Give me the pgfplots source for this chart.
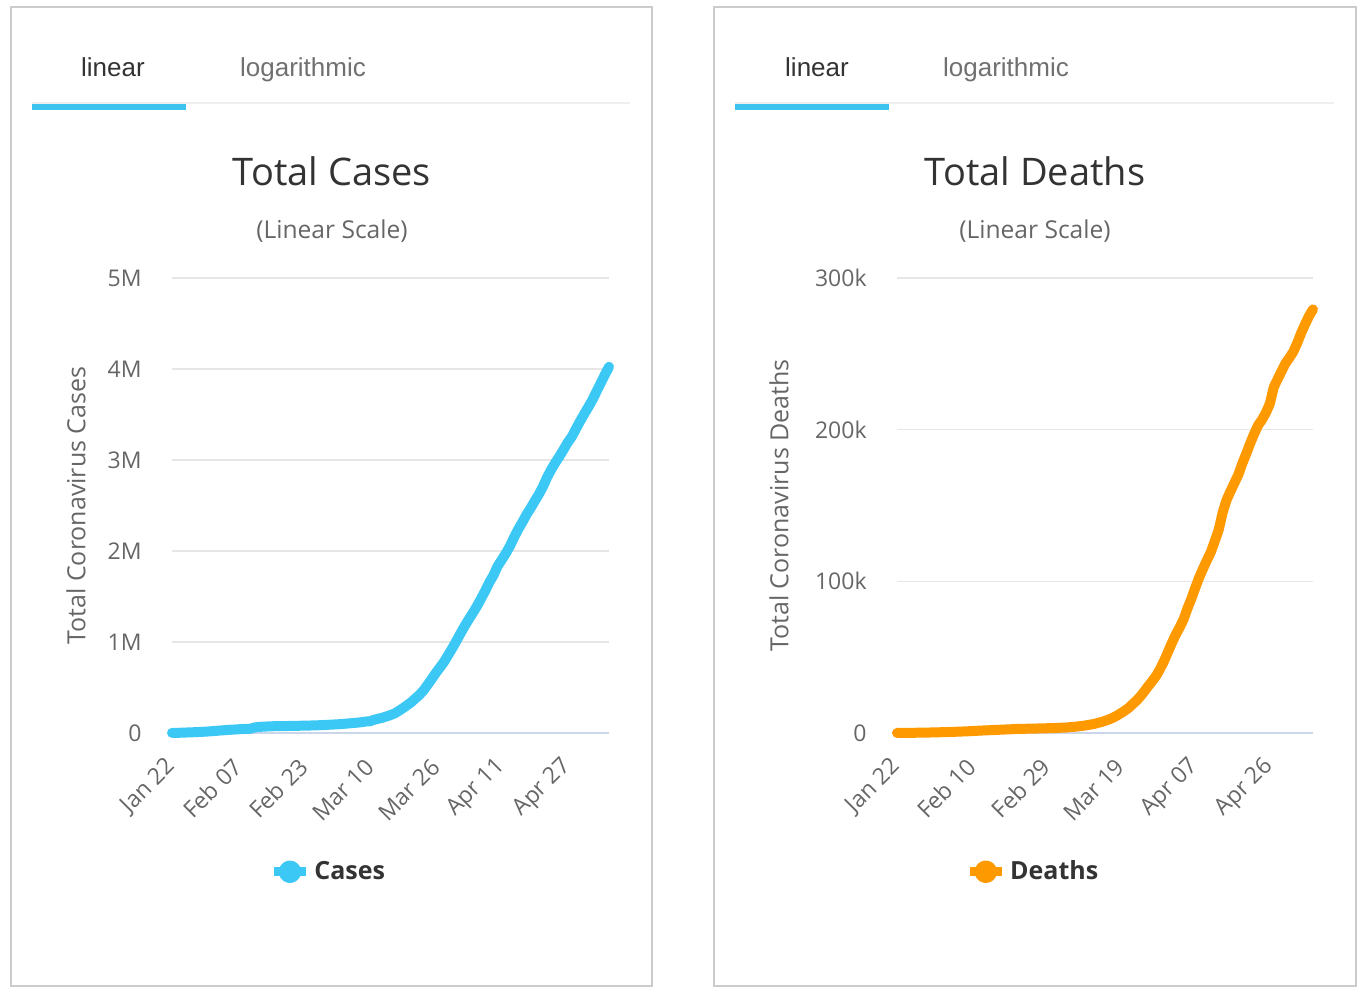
\documentclass[border=0pt]{standalone}
\usepackage{fontspec}
\setmainfont{Open Sans}
\newfontfamily\tabfont{Liberation Sans}
\usepackage{pgfplots}
\pgfplotsset{compat=1.18}

\definecolor{casesblue}{HTML}{3CC8F5}
\definecolor{deathorange}{HTML}{FF9900}
\definecolor{tabblue}{HTML}{3CC3EE}
\definecolor{bordergray}{HTML}{CCCCCC}
\definecolor{tabline}{HTML}{EEEEEE}
\definecolor{gridgray}{HTML}{E6E6E6}
\definecolor{axisblue}{HTML}{CCD6EB}
\definecolor{c333}{HTML}{333333}
\definecolor{c666}{HTML}{666666}
\definecolor{c777}{HTML}{707070}

\pgfplotsset{
  myaxis/.style={
    scale only axis, height=227.5pt, anchor=south west,
    xmin=0, xmax=106, ymin=0,
    axis x line=bottom, axis y line=left, axis line style={-},
    y axis line style={draw=none},
    x axis line style={draw=axisblue, line width=0.6pt},
    ymajorgrids, grid style={draw=gridgray, line width=0.6pt},
    major tick length=0pt,
    tick label style={font=\fontsize{11.5}{13}\selectfont, text=c666},
    yticklabel style={anchor=east, inner sep=0pt, xshift=-15pt},
    xticklabel style={inner sep=0pt, yshift=-15pt, rotate=45, anchor=east},
    scaled y ticks=false,
    ylabel style={font=\fontsize{12.5}{15}\selectfont, text=c666, anchor=center},
    legend style={draw=none, fill=none, font=\bfseries\fontsize{12.5}{15}\selectfont,
      text=c333, anchor=center, inner sep=0pt,
      /tikz/every even column/.style={column sep=0pt}},
    legend image code/.code={
      \draw[#1, line width=4.4pt, line cap=butt] (0pt,0pt) -- (16pt,0pt);
      \fill[#1] (8pt,0pt) circle (3.1pt);
    },
    clip=false,
  }
}

\begin{document}
\begin{tikzpicture}
\path[use as bounding box] (0,0) rectangle (683.5pt,497.5pt);
\begin{scope}[x=0.5pt,y=-0.5pt,shift={(0pt,497.5pt)}]
  % panels
  \draw[bordergray, line width=1pt] (11,7) rectangle (652,986);
  \draw[bordergray, line width=1pt] (714,7) rectangle (1356,986);
  % tabs left
  \draw[tabline, line width=1pt] (32,103) -- (630,103);
  \fill[tabblue] (32,104) rectangle (186,110);
  \node[anchor=base, font=\tabfont\fontsize{13}{15}\selectfont, text=c333] at (113,77) {linear};
  \node[anchor=base, font=\tabfont\fontsize{13}{15}\selectfont, text=c777] at (303,77) {logarithmic};
  % tabs right
  \draw[tabline, line width=1pt] (735,103) -- (1334,103);
  \fill[tabblue] (735,104) rectangle (889,110);
  \node[anchor=base, font=\tabfont\fontsize{13}{15}\selectfont, text=c333] at (817,77) {linear};
  \node[anchor=base, font=\tabfont\fontsize{13}{15}\selectfont, text=c777] at (1006,77) {logarithmic};
  % titles
  \node[anchor=base, font=\fontsize{19}{22}\selectfont, text=c333] at (332,186) {Total Cases};
  \node[anchor=base, font=\fontsize{12.3}{15}\selectfont, text=c666] at (332,239) {(Linear Scale)};
  \node[anchor=base, font=\fontsize{19}{22}\selectfont, text=c333] at (1035,186) {Total Deaths};
  \node[anchor=base, font=\fontsize{12.3}{15}\selectfont, text=c666] at (1035,239) {(Linear Scale)};
\end{scope}

% ---------------- Cases ----------------
\begin{axis}[myaxis, at={(86pt,131pt)}, width=218.5pt,
  ymax=5000000,
  ytick={0,1000000,2000000,3000000,4000000,5000000},
  yticklabels={0,1M,2M,3M,4M,5M},
  xtick={0,16,32,48,64,80,96},
  xticklabels={Jan 22,Feb 07,Feb 23,Mar 10,Mar 26,Apr 11,Apr 27},
  ylabel={Total Coronavirus Cases},
  ylabel style={at={(axis description cs:-0.2197,0.5)}},
  legend style={at={(0.36,-0.305)}},
]
\addplot[casesblue, line width=5pt, line join=round, line cap=round, mark=none] coordinates {
(0,1317)(1,2015)(2,2800)(3,4581)(4,6058)(5,7813)(6,9823)(7,11950)(8,14553)(9,17391)
(10,20630)(11,24554)(12,28276)(13,31481)(14,34886)(15,37558)(16,40554)(17,43103)(18,45171)(19,46997)
(20,60368)(21,66885)(22,69030)(23,71224)(24,73258)(25,75136)(26,75639)(27,76197)(28,76823)(29,78579)
(30,78965)(31,79568)(32,80413)(33,81395)(34,82754)(35,84120)(36,86011)(37,88369)(38,90306)(39,92840)
(40,95120)(41,97886)(42,101801)(43,105847)(44,109821)(45,113590)(46,118620)(47,125875)(48,128352)(49,145205)
(50,156101)(51,167454)(52,181574)(53,197102)(54,214821)(55,242570)(56,272208)(57,304507)(58,336953)(59,378235)
(60,418045)(61,467653)(62,529591)(63,593291)(64,660706)(65,720117)(66,782365)(67,857487)(68,932605)(69,1013157)
(70,1095917)(71,1176060)(72,1249754)(73,1321481)(74,1396476)(75,1479804)(76,1565278)(77,1657526)(78,1735650)(79,1834721)
(80,1904838)(81,1976191)(82,2056054)(83,2152437)(84,2240190)(85,2317759)(86,2401378)(87,2472259)(88,2549294)(89,2624068)
(90,2708885)(91,2811193)(92,2896746)(93,2971475)(94,3041764)(95,3116398)(96,3193886)(97,3256846)(98,3343777)(99,3427343)
(100,3506729)(101,3583055)(102,3662691)(103,3755341)(104,3845718)(105,3938064)(106,4024009)
};
\addlegendentry{Cases}
\end{axis}

% ---------------- Deaths ----------------
\begin{axis}[myaxis, at={(448.5pt,131pt)}, width=208pt,
  ymax=300000,
  ytick={0,100000,200000,300000},
  yticklabels={0,100k,200k,300k},
  xtick={0,19,38,57,76,95},
  xticklabels={Jan 22,Feb 10,Feb 29,Mar 19,Apr 07,Apr 26},
  ylabel={Total Coronavirus Deaths},
  ylabel style={at={(axis description cs:-0.2837,0.5)}},
  legend style={at={(0.329,-0.305)}},
]
\addplot[deathorange, line width=5pt, line join=round, line cap=round, mark=none] coordinates {
(0,41)(1,56)(2,80)(3,106)(4,132)(5,170)(6,213)(7,259)(8,304)(9,362)
(10,426)(11,492)(12,565)(13,638)(14,724)(15,813)(16,910)(17,1018)(18,1115)(19,1261)
(20,1383)(21,1526)(22,1669)(23,1775)(24,1873)(25,2009)(26,2126)(27,2247)(28,2360)(29,2460)
(30,2618)(31,2699)(32,2763)(33,2800)(34,2858)(35,2923)(36,2977)(37,3050)(38,3117)(39,3202)
(40,3285)(41,3387)(42,3494)(43,3599)(44,3827)(45,4025)(46,4296)(47,4628)(48,4981)(49,5428)
(50,5833)(51,6520)(52,7162)(53,7979)(54,8957)(55,10031)(56,11386)(57,13011)(58,14628)(59,16513)
(60,18888)(61,21283)(62,24085)(63,27369)(64,30858)(65,34046)(66,37559)(67,42107)(68,47209)(69,53190)
(70,59170)(71,64728)(72,69527)(73,74816)(74,82074)(75,88502)(76,95735)(77,102525)(78,108503)(79,114091)
(80,119482)(81,126741)(82,134235)(83,145591)(84,153822)(85,159510)(86,165044)(87,170436)(88,177811)(89,184217)
(90,191053)(91,197233)(92,202846)(93,206544)(94,211167)(95,217153)(96,228026)(97,233362)(98,238650)(99,243808)
(100,247470)(101,251510)(102,257239)(103,263855)(104,269567)(105,275039)(106,279311)
};
\addlegendentry{Deaths}
\end{axis}
\end{tikzpicture}
\end{document}
